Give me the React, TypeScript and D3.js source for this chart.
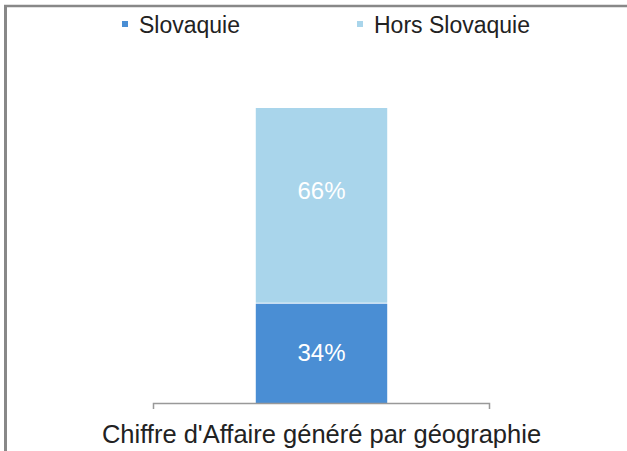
import React from "react";
import * as d3 from "d3";

const categories = ["Chiffre d'Affaire généré par géographie"];
const seriesNames = ["Slovaquie", "Hors Slovaquie"];
const slovaquie = [0.34];
const horsSlovaquie = [0.66];
const colors = ["#4a8ed4", "#a9d5eb"];

export default function App() {
  const W = 627, H = 451;
  const x = d3.scaleBand().domain(categories).range([153, 490]).paddingInner(0.61).paddingOuter(0.305);
  const y = d3.scaleLinear().domain([0, 1]).range([403, 108]);
  const rows = categories.map((c, i) => ({ cat: c, Slovaquie: slovaquie[i], "Hors Slovaquie": horsSlovaquie[i] }));
  const stacked = d3.stack<any>().keys(seriesNames)(rows);
  const fmt = d3.format(".0%");
  const labelShift = [0, -14];
  return (
    <svg width={W} height={H} style={{ position: "absolute", left: 0, top: 0, fontFamily: "Liberation Sans, Arial, sans-serif" }}>
      <rect x={0} y={0} width={W} height={H} fill="#fff" />
      <line x1={5.5} y1={6} x2={5.5} y2={H} stroke="#888" strokeWidth={3} />
      <line x1={4} y1={6} x2={W} y2={6} stroke="#888" strokeWidth={2.5} />
      {stacked.map((s, si) =>
        s.map((d, i) => (
          <g key={si + "-" + i}>
            <rect
              x={x(rows[i].cat)!}
              y={y(d[1]) + (si === 0 ? 1 : 0)}
              width={x.bandwidth()}
              height={y(d[0]) - y(d[1]) - (si === 0 ? 1 : 0)}
              fill={colors[si]}
            />
            <text
              x={x(rows[i].cat)! + x.bandwidth() / 2}
              y={(y(d[0]) + y(d[1])) / 2 + 8 + labelShift[si]}
              textAnchor="middle"
              fill="#fff"
              fontSize={24}
            >
              {fmt(d[1] - d[0])}
            </text>
          </g>
        ))
      )}
      <path d={`M153.5,409V403.5H489.5V409`} fill="none" stroke="#999" strokeWidth={1.5} />
      {categories.map((c) => (
        <text key={c} x={x(c)! + x.bandwidth() / 2} y={443} textAnchor="middle" fontSize={25.5} fill="#222">
          {c}
        </text>
      ))}
      {seriesNames.map((n, i) => {
        const lx = [122, 357][i];
        return (
          <g key={n}>
            <rect x={lx} y={21} width={6} height={6} fill={colors[i]} />
            <text x={lx + 17} y={32.5} fontSize={23} fill="#222">{n}</text>
          </g>
        );
      })}
    </svg>
  );
}
